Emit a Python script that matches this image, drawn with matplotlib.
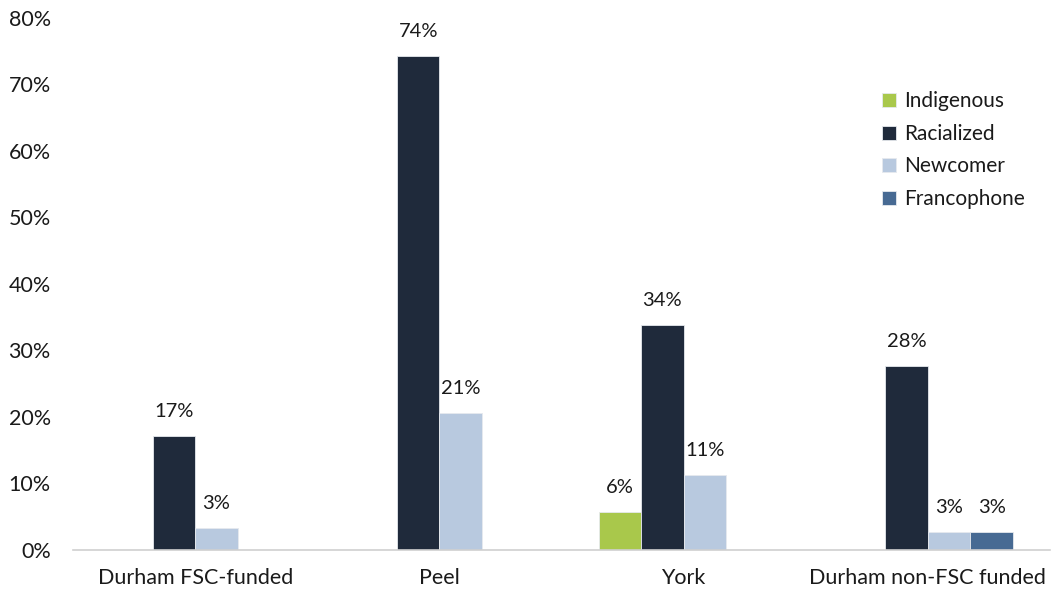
import numpy as np
import matplotlib
matplotlib.use("Agg")
import matplotlib.pyplot as plt
from matplotlib.ticker import PercentFormatter

plt.rcParams["font.family"] = ["Lato", "DejaVu Sans"]

# ── Data ──────────────────────────────────────────────────────────────────────
regions = ["Durham FSC-funded", "Peel", "York", "Durham non-FSC funded"]
series = ["Indigenous", "Racialized", "Newcomer", "Francophone"]
indigenous = [np.nan, np.nan, 5.7, np.nan]
racialized = [17.1, 74.3, 33.9, 27.7]
newcomer = [3.3, 20.6, 11.3, 2.7]
francophone = [np.nan, np.nan, np.nan, 2.7]
yticks = [0, 10, 20, 30, 40, 50, 60, 70, 80]

colors = ["#A9C84B", "#1F2A3B", "#B8C9DF", "#476A93"]
values = [indigenous, racialized, newcomer, francophone]

# ── Figure ────────────────────────────────────────────────────────────────────
fig = plt.figure(figsize=(10.51, 5.96), dpi=100)
ax = fig.add_axes([0.0695, 0.0772, 0.9295, 0.8926])

x = np.arange(len(regions))
w = 0.174
for i, (name, vals, c) in enumerate(zip(series, values, colors)):
    offs = (i - 1.5) * w
    vals = np.array(vals, dtype=float)
    mask = ~np.isnan(vals)
    ax.bar(x[mask] + offs, vals[mask], width=w, color=c, label=name,
           edgecolor="#E6E9EE", linewidth=0.6)
    for xi, v in zip(x[mask] + offs, vals[mask]):
        ax.text(xi, v + 2.4, f"{v:.0f}%", ha="center", va="bottom",
                fontsize=14.5, color="#1a1a1a")

ax.set_xlim(-0.5, 3.5)
ax.set_ylim(0, 80)
ax.set_yticks(yticks)
ax.yaxis.set_major_formatter(PercentFormatter(decimals=0))
ax.set_xticks(x)
ax.set_xticklabels(regions)
ax.tick_params(axis="both", length=0, labelsize=15.5, colors="#1a1a1a")
ax.tick_params(axis="y", pad=16)
ax.tick_params(axis="x", pad=13)
for s in ["top", "right", "left"]:
    ax.spines[s].set_visible(False)
ax.spines["bottom"].set_color("#D0D0D0")
ax.spines["bottom"].set_linewidth(1.2)

leg = ax.legend(loc="upper left", bbox_to_anchor=(872 / 1051, 1 - 81 / 596),
                bbox_transform=fig.transFigure, frameon=False, fontsize=15,
                handlelength=0.65, handleheight=0.65, handletextpad=0.4,
                labelspacing=0.6, borderpad=0)
for t in leg.get_texts():
    t.set_color("#1a1a1a")

fig.savefig("out.png", dpi=100)
